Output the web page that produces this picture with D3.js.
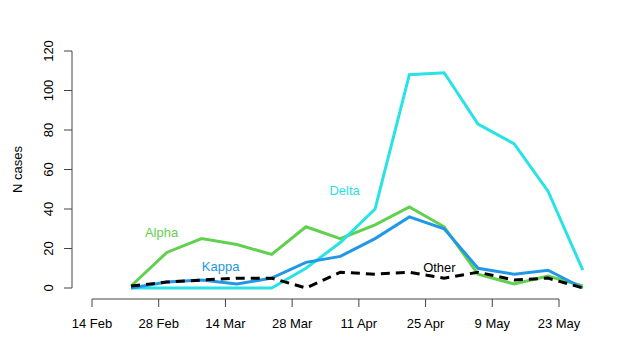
<!DOCTYPE html>
<html>
<head>
<meta charset="utf-8">
<script src="https://cdn.jsdelivr.net/npm/d3@7"></script>
<style>
  body { margin: 0; background: #fff; }
  svg text { font-family: "Liberation Sans", Arial, Helvetica, sans-serif; }
</style>
</head>
<body>
<svg id="chart" width="624" height="347"></svg>
<script>
// Days since 14 Feb for each weekly point
const days = [8.2, 15.7, 23.0, 30.4, 37.7, 44.9, 52.1, 59.4, 66.6, 73.9, 81.0, 88.6, 95.7, 103.0];
const alpha = [1, 18, 25, 22, 17, 31, 25, 32, 41, 31, 7, 2, 6, 1];
const kappa = [0, 3, 4, 2, 5, 13, 16, 25, 36, 30, 10, 7, 9, 0];
const delta = [0, 0, 0, 0, 0, 10, 23, 40, 108, 109, 83, 73, 49, 9];
const other = [1, 3, 4, 5, 5, 0, 8, 7, 8, 5, 8, 4, 5, 0];

const xTickDays = [0, 14, 28, 42, 56, 70, 84, 98];
const xTickLabels = ["14 Feb", "28 Feb", "14 Mar", "28 Mar", "11 Apr", "25 Apr", "9 May", "23 May"];
const yTicks = [0, 20, 40, 60, 80, 100, 120];

const seriesNames = ["Alpha", "Kappa", "Delta", "Other"];
const seriesColors = ["#61D04F", "#2297E6", "#28E2E5", "#000000"];
const labelPos = [[14.6, 28.2], [27.0, 10.8], [53.0, 49.6], [72.9, 10.3]];
const seriesData = [alpha, kappa, delta, other];

const svg = d3.select("#chart");
const x = d3.scaleLinear().domain([0, 98]).range([92, 559]);
const y = d3.scaleLinear().domain([0, 120]).range([288, 51]);

// Y axis
const yAxis = svg.append("g").attr("transform", "translate(72,0)");
yAxis.append("line").attr("x1", 0).attr("x2", 0).attr("y1", y(0)).attr("y2", y(120))
  .attr("stroke", "#444").attr("stroke-width", 1);
yTicks.forEach(t => {
  yAxis.append("line").attr("x1", -8).attr("x2", 0).attr("y1", y(t)).attr("y2", y(t))
    .attr("stroke", "#444");
  yAxis.append("text").attr("transform", `translate(-24,${y(t)}) rotate(-90)`)
    .attr("text-anchor", "middle").attr("dominant-baseline", "central")
    .attr("font-size", 13).attr("fill", "#000").text(t);
});
svg.append("text").attr("transform", `translate(17,${(y(0) + y(120)) / 2}) rotate(-90)`)
  .attr("text-anchor", "middle").attr("dominant-baseline", "central")
  .attr("font-size", 13).text("N cases");

// X axis
const xAxis = svg.append("g").attr("transform", "translate(0,299)");
xAxis.append("line").attr("x1", x(0)).attr("x2", x(98)).attr("y1", 0).attr("y2", 0)
  .attr("stroke", "#444");
xTickDays.forEach((d, i) => {
  xAxis.append("line").attr("x1", x(d)).attr("x2", x(d)).attr("y1", 0).attr("y2", 8)
    .attr("stroke", "#444");
  xAxis.append("text").attr("x", x(d)).attr("y", 24)
    .attr("text-anchor", "middle").attr("dominant-baseline", "central")
    .attr("font-size", 13).text(xTickLabels[i]);
});

// Lines
const line = d3.line().x(d => x(d[0])).y(d => y(d[1]));
const drawOrder = [0, 2, 1, 3];
drawOrder.forEach(k => {
  const pts = days.map((d, i) => [d, seriesData[k][i]]);
  const p = svg.append("path").attr("d", line(pts)).attr("fill", "none")
    .attr("stroke", seriesColors[k]).attr("stroke-width", 3)
    .attr("stroke-linejoin", "miter");
  if (seriesNames[k] === "Other") p.attr("stroke-dasharray", "9,6");
});

// Labels
seriesNames.forEach((n, k) => {
  svg.append("text").attr("x", x(labelPos[k][0])).attr("y", y(labelPos[k][1]))
    .attr("text-anchor", "middle").attr("dominant-baseline", "central")
    .attr("font-size", 13).attr("fill", seriesColors[k]).text(n);
});
</script>
</body>
</html>
